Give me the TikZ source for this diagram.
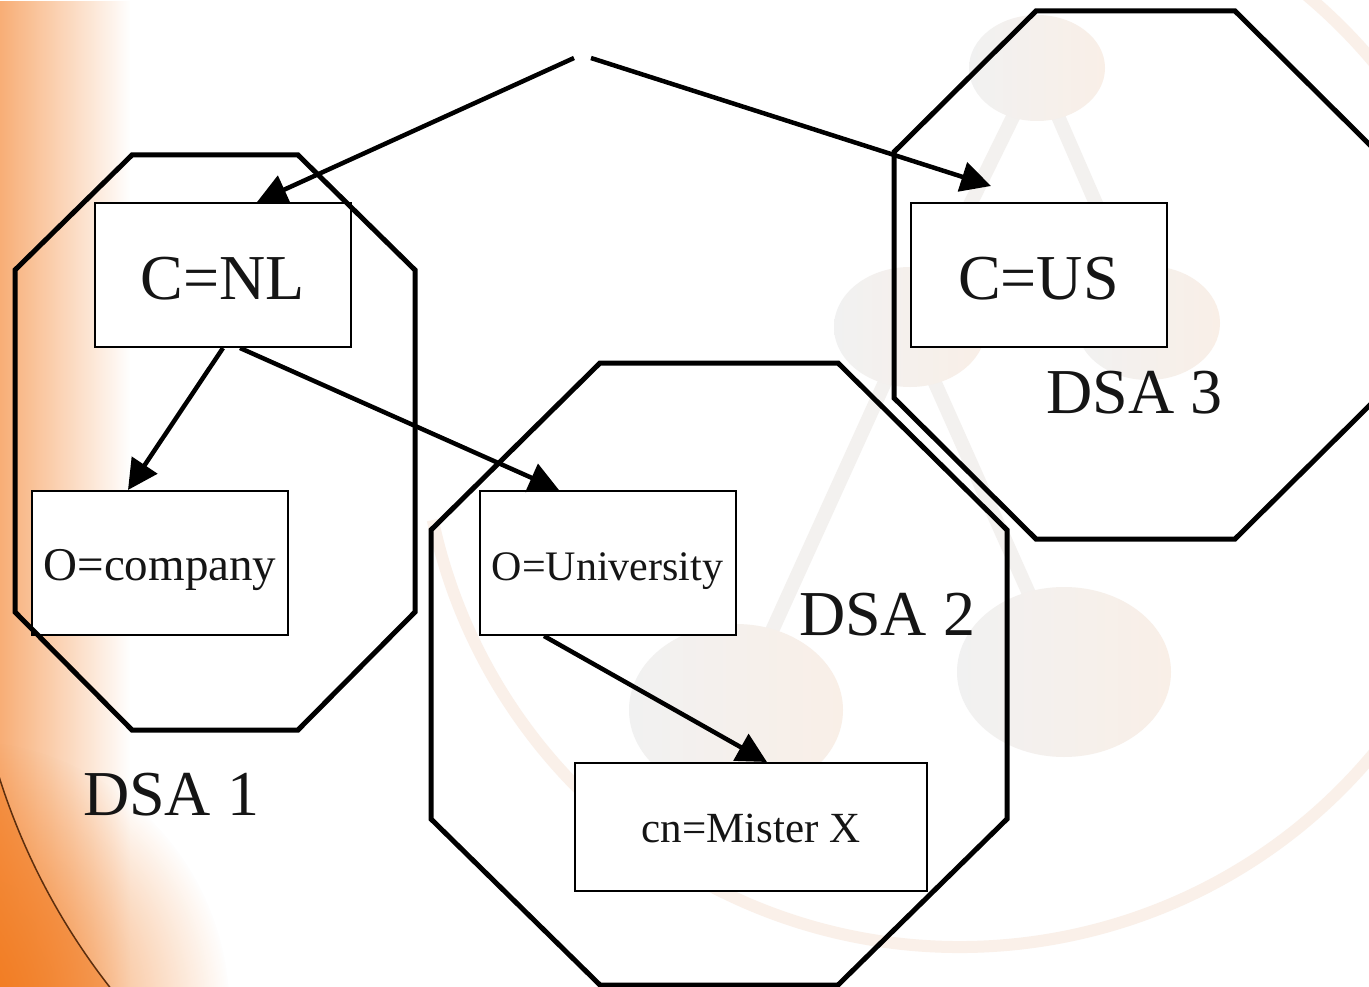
\documentclass[tikz,border=0pt]{standalone}
\usepackage{fontspec}
\setmainfont{Liberation Serif}
\usetikzlibrary{arrows.meta,fadings}

\definecolor{glowA}{HTML}{F8AE76}
\definecolor{glowB}{HTML}{F27A1E}
\definecolor{logoL}{HTML}{F1F1F1}
\definecolor{logoR}{HTML}{F9EFE7}
\definecolor{bondc}{HTML}{F3F1EF}
\definecolor{ringc}{HTML}{FAF0E9}
\definecolor{arcc}{HTML}{5C2E0E}
\definecolor{ink}{HTML}{151515}

\tikzfading[name=fadeeast, left color=transparent!0, right color=transparent!100]
\tikzfading[name=fadeglow, inner color=transparent!0, outer color=transparent!100]

\tikzset{
  entry/.style={draw, line width=2pt, fill=white, inner sep=0pt, text depth=0pt, text=ink,
    minimum width=256pt, minimum height=144pt},
  bigentry/.style={entry, text height=48pt, font=\fontsize{64}{64}\selectfont},
  dsa/.style={draw, line width=5pt, line join=miter},
  link/.style={line width=4.5pt, -{Triangle[length=30pt,width=30pt]}},
  dsalabel/.style={anchor=base west, inner sep=0pt, text=ink, font=\fontsize{64}{64}\selectfont},
  blob/.style={left color=logoL, right color=logoR},
}

\begin{document}
\begin{tikzpicture}[x=1pt, y=-1pt]
\useasboundingbox (0,0) rectangle (1369,987);
\fill[white] (0,0) rectangle (1369,987);

% slide background
\begin{scope}
  \clip (0,0) rectangle (1369,987);
  \fill[glowA, path fading=fadeeast] (0,0) rectangle (130,987);
  \fill[glowB, path fading=fadeglow] (-40,1010) circle (270);
  \fill[glowB, opacity=0.5] (-9,749) arc[start angle=165, end angle=138, radius=667] -- (-9,1022) -- cycle;
  \draw[arcc, line width=1.5pt] (-9,749) arc[start angle=165, end angle=138, radius=667];
  \draw[ringc, line width=12pt] (960,408) ++(-55:539) arc[start angle=-55, end angle=168, radius=539];
  \draw[bondc, line width=14pt] (1037,68) -- (910,327) -- (736,710)
    (1037,68) -- (1148,323) (910,327) -- (1064,672);
  \foreach \c/\rx/\ry in {(1037,68)/68/53, (910,327)/76/60, (1148,323)/72/57,
                          (736,710)/107/86, (1064,672)/107/85}
    \shade[blob] \c ellipse[x radius=\rx, y radius=\ry];
\end{scope}

% entries
\node[bigentry] (cnl) at (223,275) {C=NL};
\node[bigentry] (cus) at (1038.5,275) {C=US};
\node[entry, text height=34pt, font=\fontsize{47}{47}\selectfont] (comp) at (160,563) {O=company};
\node[entry, text height=34pt, font=\fontsize{42}{42}\selectfont] (univ) at (607.5,563) {O=University};
\node[entry, minimum width=352pt, minimum height=128pt, text height=30pt,
      font=\fontsize{43}{43}\selectfont] (mx) at (751,827) {cn=Mister X};

% DSA borders
\draw[dsa] (132,155) -- (298,155) -- (415,270) -- (415,612) -- (298,730) -- (132,730) -- (15,612) -- (15,270) -- cycle;
\draw[dsa] (600,363) -- (838,363) -- (1007,530) -- (1007,819) -- (838,985) -- (600,985) -- (431,819) -- (431,530) -- cycle;
\draw[dsa] (1036,11) -- (1235,11) -- (1377,152) -- (1377,398) -- (1235,539) -- (1036,539) -- (894,398) -- (894,152) -- cycle;

\node[dsalabel] (dsa1) at (83,815) {DSA 1};
\node[dsalabel] (dsa2) at (799,635) {DSA 2};
\node[dsalabel] (dsa3) at (1046,413) {DSA 3};

% tree
\coordinate (top) at (582.5,58);
\draw[link] ([xshift=-8.5pt]top) -- ([xshift=34pt]cnl.north);
\draw[link] ([xshift=8.5pt]top) -- ([xshift=-47.5pt,yshift=16pt]cus.north);
\draw[link] (cnl.south) -- ([xshift=-32pt]comp.north);
\draw[link] ([xshift=17pt]cnl.south) -- ([xshift=-48.5pt]univ.north);
\draw[link] ([xshift=-63.5pt]univ.south) -- ([xshift=16pt]mx.north);
\end{tikzpicture}
\end{document}
